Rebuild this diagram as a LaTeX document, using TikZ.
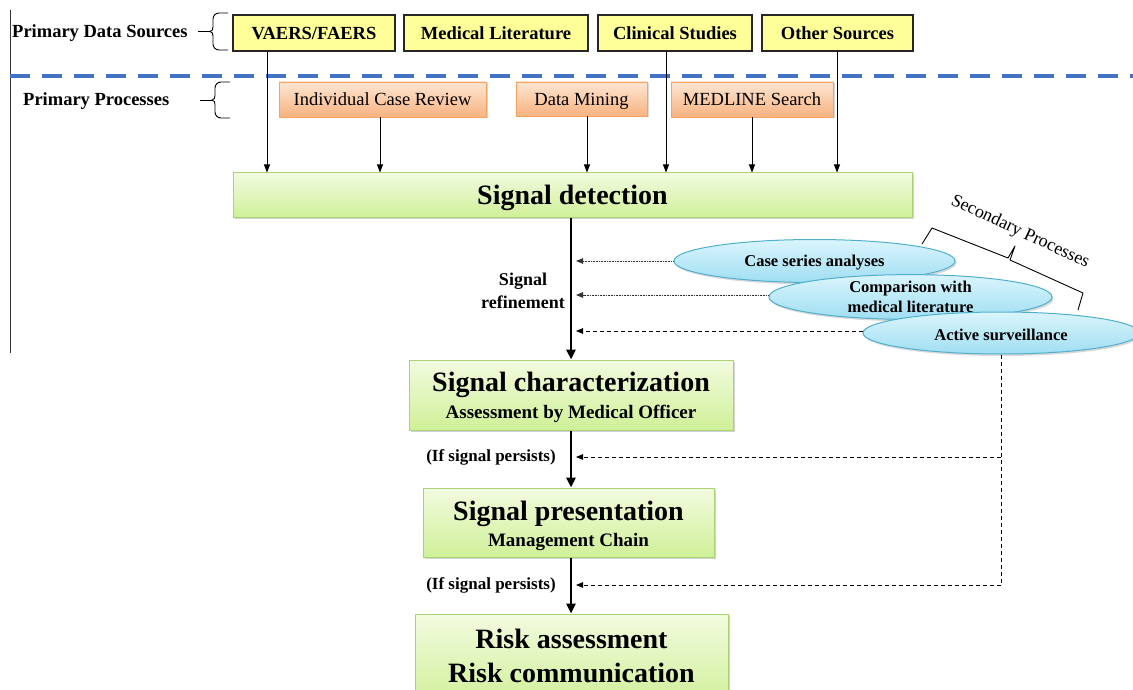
\documentclass[tikz,border=0pt]{standalone}
\usepackage{fontspec}
\setmainfont{Liberation Serif}
\usetikzlibrary{arrows.meta,shadows,shapes.geometric}
\definecolor{ybox}{RGB}{255,255,153}
\definecolor{otop}{RGB}{253,230,210}
\definecolor{obot}{RGB}{248,178,128}
\definecolor{oborder}{RGB}{244,164,96}
\definecolor{gtop}{RGB}{242,251,224}
\definecolor{gbot}{RGB}{208,240,152}
\definecolor{gborder}{RGB}{168,212,118}
\definecolor{etop}{RGB}{218,245,253}
\definecolor{ebot}{RGB}{160,222,242}
\definecolor{eborder}{RGB}{80,175,205}
\definecolor{dashblue}{RGB}{68,114,196}
\tikzset{
  src/.style={draw=black!85, line width=1.3pt, fill=ybox, inner sep=0pt,
    text height=14pt, text depth=1.8pt,
    font=\fontsize{18.5}{22}\selectfont\bfseries},
  proc/.style={draw=oborder, line width=0.8pt, top color=otop, bottom color=obot,
    inner sep=0pt, text height=14pt, text depth=1.8pt, font=\fontsize{18.5}{22}\selectfont,
    drop shadow={shadow xshift=1.5pt, shadow yshift=-1.5pt, opacity=0.3}},
  stage/.style={draw=gborder, line width=1pt, top color=gtop, bottom color=gbot,
    inner sep=0pt, align=center,
    drop shadow={shadow xshift=2pt, shadow yshift=-2pt, opacity=0.35}},
  sec/.style={ellipse, draw=eborder, line width=1pt, top color=etop, bottom color=ebot,
    inner sep=0pt, align=center, font=\fontsize{16.5}{20}\selectfont\bfseries,
    drop shadow={shadow xshift=1.5pt, shadow yshift=-2pt, opacity=0.3}},
  lbl/.style={inner sep=0pt, font=\fontsize{18.5}{22}\selectfont\bfseries},
  feed/.style={-{Triangle[length=8pt,width=6pt]}, line width=0.8pt},
  flow/.style={-{Triangle[length=10pt,width=9pt]}, line width=2.8pt},
  dotarrow/.style={-{Triangle[length=7pt,width=5.5pt]}, line width=0.8pt, dash pattern=on 1pt off 0.6pt, black!80},
  dasharrow/.style={-{Triangle[length=7pt,width=5.5pt]}, line width=0.8pt, dash pattern=on 4pt off 3pt},
  bracket/.style={line width=0.9pt}
}
\begin{document}
\begin{tikzpicture}[x=1pt,y=-1pt]
\useasboundingbox (0,0) rectangle (1133,690);
\clip (0,0) rectangle (1133,690);

% left border and separator
\draw[line width=1pt, black!80] (10,10) -- (10,353);
\draw[dashblue, line width=4pt, dash pattern=on 20pt off 12pt] (10,76) -- (1133,76);

% row labels and braces
\node[lbl, anchor=west] (pds) at (12,33) {Primary Data Sources};
\draw[bracket] (198,31.5) -- (210,31.5);
\draw[bracket] (228,13) -- (219,13) to[out=180,in=90] (213,19) -- (213,27)
  to[out=-90,in=0] (210,31.5) to[out=0,in=90] (213,36) -- (213,44)
  to[out=-90,in=180] (219,50) -- (228,50);
\node[lbl, anchor=west] (pp) at (23,101) {Primary Processes};
\draw[bracket] (200,100) -- (212,100);
\draw[bracket] (230,82) -- (221,82) to[out=180,in=90] (215,88) -- (215,95.5)
  to[out=-90,in=0] (212,100) to[out=0,in=90] (215,104.5) -- (215,112)
  to[out=-90,in=180] (221,118) -- (230,118);

% primary data sources
\node[src, minimum width=162pt, minimum height=36pt] (vaers) at (314,33) {VAERS/FAERS};
\node[src, minimum width=184pt, minimum height=36pt] (medlit) at (496,33) {Medical Literature};
\node[src, minimum width=154pt, minimum height=36pt] (clin) at (675,33) {Clinical Studies};
\node[src, minimum width=151pt, minimum height=36pt] (other) at (837.5,33) {Other Sources};

% primary processes
\node[proc, minimum width=207pt, minimum height=35pt] (icr) at (382.5,99.5) {Individual Case Review};
\node[proc, minimum width=131pt, minimum height=34pt] (dm) at (581.5,99) {Data Mining};
\node[proc, minimum width=162pt, minimum height=35pt] (medline) at (752,99.5) {MEDLINE Search};

% signal detection
\node[stage, minimum width=679pt, minimum height=44pt, font=\fontsize{28}{32}\selectfont\bfseries] (sd) at (572.5,195) {\rule{0pt}{26pt}Signal detection};

\draw[feed] (vaers.south -| 267,0) -- (sd.north -| 267,0);
\draw[feed] (icr.south -| 380,0) -- (sd.north -| 380,0);
\draw[feed] (dm.south -| 587,0) -- (sd.north -| 587,0);
\draw[feed] (clin.south -| 666,0) -- (sd.north -| 666,0);
\draw[feed] (medline.south -| 752,0) -- (sd.north -| 752,0);
\draw[feed] (other.south -| 837,0) -- (sd.north -| 837,0);

% stages
\node[stage, minimum width=324pt, minimum height=70pt, font=\fontsize{28}{27}\selectfont\bfseries] (sc) at (571,395)
  {\rule{0pt}{24pt}Signal characterization\\
   {\fontsize{19}{22}\selectfont Assessment by Medical Officer}};
\node[stage, minimum width=291pt, minimum height=69pt, font=\fontsize{28}{25.5}\selectfont\bfseries] (sp) at (568.5,522.5)
  {\rule{0pt}{26pt}Signal presentation\\
   {\fontsize{19}{22}\selectfont Management Chain}};
\node[stage, minimum width=313pt, minimum height=92pt, font=\fontsize{28}{34}\selectfont\bfseries] (risk) at (571.5,660)
  {Risk assessment\\Risk communication\rule[-8pt]{0pt}{8pt}};

\draw[flow] (sd.south -| 571,0) -- (sc.north -| 571,0);
\draw[flow] (sc.south -| 571,0) -- (sp.north -| 571,0);
\draw[flow] (sp.south -| 571,0) -- (risk.north -| 571,0);

\node[lbl, align=center, font=\fontsize{18}{23}\selectfont\bfseries] (refine) at (523,291) {Signal\\refinement};
\node[lbl, font=\fontsize{17}{20}\selectfont\bfseries] (ifp1) at (491,457) {(If signal persists)};
\node[lbl, font=\fontsize{17}{20}\selectfont\bfseries] (ifp2) at (491,585) {(If signal persists)};

% secondary processes
\node[sec, minimum width=281pt, minimum height=43pt] (cs) at (814.5,261) {\rule{0pt}{15pt}Case series analyses};
\node[sec, minimum width=283pt, minimum height=44pt] (cmp) at (910.5,297) {Comparison with\\medical literature};
\node[sec, minimum width=276pt, minimum height=42pt] (as) at (1001,333) {\rule{0pt}{15pt}Active surveillance};

\coordinate (t1) at (576,261);
\coordinate (t2) at (576,295);
\coordinate (t3) at (576,331);
\coordinate (t4) at (576,457);
\coordinate (t5) at (576,585);
\draw[dotarrow] (cs.west) -- (t1);
\draw[dotarrow] (cmp.west |- t2) -- (t2);
\draw[dasharrow] (as.west |- t3) -- (t3);
\draw[dasharrow] (as.south) |- (t5);
\draw[dasharrow] (as.south |- t4) -- (t4);

% secondary brace and label
\draw[bracket, line join=round] (922,244) -- (932,228) -- (1008,258) -- (1015,246) -- (1010,260) -- (1083,293) -- (1078,310);
\node[inner sep=0pt, rotate=-25, font=\fontsize{18}{20}\selectfont] (sproc) at (1020,232) {Secondary Processes};
\end{tikzpicture}
\end{document}
